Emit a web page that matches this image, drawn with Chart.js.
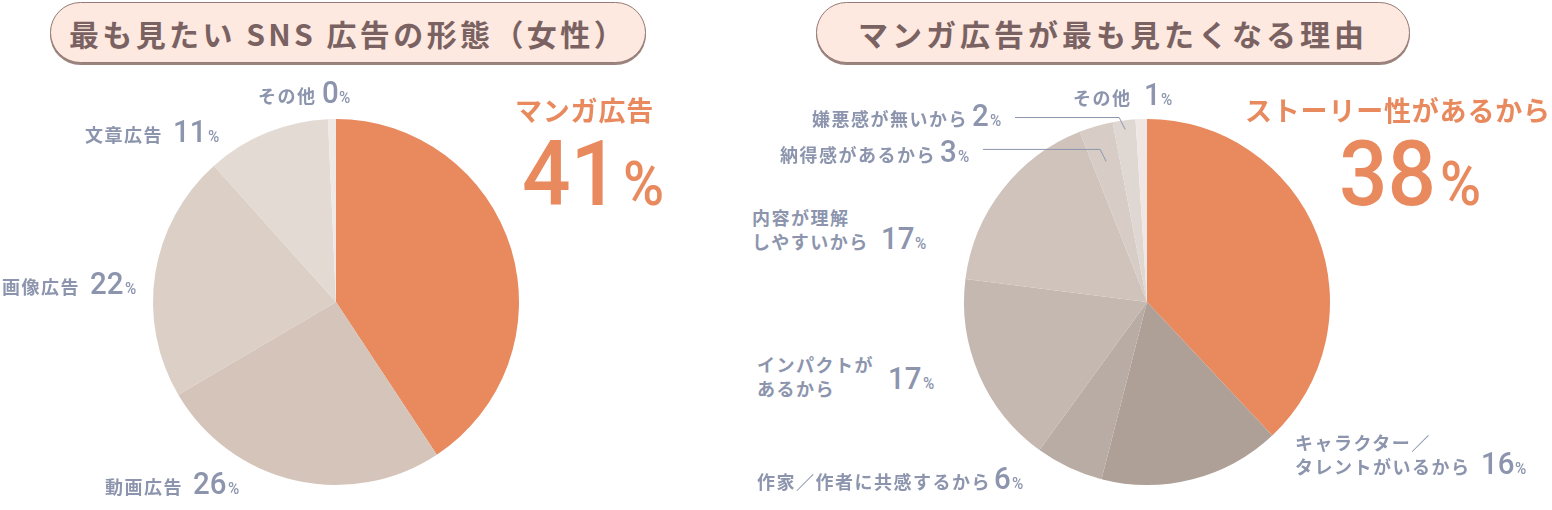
<!DOCTYPE html>
<html lang="ja">
<head>
<meta charset="utf-8">
<script src="https://cdn.jsdelivr.net/npm/chart.js@4.4.0/dist/chart.umd.min.js"></script>
<style>
html, body { margin: 0; padding: 0; background: #fff; }
body { width: 1552px; height: 510px; position: relative; overflow: hidden; font-family: 'Noto Sans CJK JP', 'Noto Sans', sans-serif; }
.title { position: absolute; top: 2px; height: 61px; box-sizing: border-box; border: 1.5px solid #957b75; border-radius: 31px; background: #fee9e1; box-shadow: 0 2px 0 #9c847e; color: #7a6262; font-size: 30px; font-weight: 700; letter-spacing: 4px; display: flex; align-items: center; justify-content: center; }
.pie { position: absolute; width: 406px; height: 406px; }
.lbl { position: absolute; white-space: nowrap; line-height: 1; font-size: 0; color: #8c95ad; }
.lbl .t { font-weight: 700; letter-spacing: 1.5px; }
.lbl .t.multi { display: inline-block; line-height: 1.32; }
.lbl .n, .lbl .p { display: inline-block; font-family: Roboto, sans-serif; font-weight: 500; transform-origin: left bottom; }
.lbl .mk { display: inline-block; width: 0; height: 0; }
.lbl.big { color: #e8895e; }
</style>
</head>
<body>
<div class="title" style="left:50px;width:596px;letter-spacing:3.4px;" id="leftTitle"></div>
<div class="title" style="left:816px;width:594px;" id="rightTitle"></div>
<div class="pie" style="left:133px;top:99px;"><canvas id="leftPie" width="406" height="406"></canvas></div>
<div class="pie" style="left:944px;top:99px;"><canvas id="rightPie" width="406" height="406"></canvas></div>
<script>
// 左：最も見たいSNS広告の形態（女性）
const leftTitle = '最も見たい SNS 広告の形態（女性）';
const leftCategories = ['マンガ広告', '動画広告', '画像広告', '文章広告', 'その他'];
const leftValues = [41, 26, 22, 11, 0.7];
const leftPctLabels = ['41', '26', '22', '11', '0'];
const leftColors = ['#e8895e', '#d5c4b9', '#dbcfc6', '#e3dad4', '#efe8e5'];

// 右：マンガ広告が最も見たくなる理由
const rightTitle = 'マンガ広告が最も見たくなる理由';
const rightCategories = ['ストーリー性があるから', 'キャラクター／\nタレントがいるから', '作家／作者に共感するから',
    'インパクトが\nあるから', '内容が理解\nしやすいから', '納得感があるから', '嫌悪感が無いから', 'その他'];
const rightValues = [38, 16, 6, 17, 17, 3, 2, 1];
const rightPctLabels = ['38', '16', '6', '17', '17', '3', '2', '1'];
const rightColors = ['#e8895e', '#ae9f97', '#b8aca4', '#c4b8b0', '#cfc3bb', '#d8cdc6', '#dfd7d2', '#eee7e4'];

document.getElementById('leftTitle').textContent = leftTitle;
document.getElementById('rightTitle').textContent = rightTitle;

// ラベルの配置（x, 数字のベースライン）
const smallStyle = { textSize: 18, numSize: 31, pctSize: 17, scale: 0.95, pctScale: 0.9, gap: 10 };
const leftPlace = [
    null,
    { x: 105, base: 494 },
    { x: 2, base: 294 },
    { x: 85, base: 142 },
    { x: 258, base: 103, gap: 5 }
];
const rightPlace = [
    null,
    { x: 1295, base: 474 },
    { x: 757, base: 489, gap: 3 },
    { x: 757, base: 389, shift: 7, gap: 14 },
    { x: 752, base: 249, gap: 12 },
    { x: 780, base: 162, gap: 4 },
    { x: 812, base: 126, gap: 4 },
    { x: 1073, base: 105, gap: 12 }
];

function makeLabel(text, num, opt) {
    const row = document.createElement('div');
    row.className = 'lbl' + (opt.big ? ' big' : '');
    row.style.left = opt.x + 'px';
    if (text) {
        const t = document.createElement('span');
        t.className = 't' + (text.includes('\n') ? ' multi' : '');
        t.style.fontSize = opt.textSize + 'px';
        if (opt.big) t.style.letterSpacing = '0.8px';
        text.split('\n').forEach((line, i) => {
            if (i) t.appendChild(document.createElement('br'));
            t.appendChild(document.createTextNode(line));
        });
        if (num) t.style.marginRight = (opt.gap ?? 10) + 'px';
        if (opt.shift) t.style.verticalAlign = (-opt.shift) + 'px';
        row.appendChild(t);
    }
    let n, p;
    if (num) {
        n = document.createElement('span');
        n.className = 'n';
        n.style.fontSize = opt.numSize + 'px';
        n.textContent = num;
        p = document.createElement('span');
        p.className = 'p';
        p.style.fontSize = opt.pctSize + 'px';
        p.textContent = '%';
        row.appendChild(n);
        row.appendChild(p);
    }
    const mk = document.createElement('span');
    mk.className = 'mk';
    row.appendChild(mk);
    row.style.top = '0px';
    document.body.appendChild(row);
    if (n) {
        const s = opt.scale;
        const w = n.offsetWidth;
        n.style.transform = `scaleX(${s})`;
        n.style.marginRight = (-(1 - s) * w + (opt.pctGap ?? 1)) + 'px';
        p.style.transform = `scaleX(${opt.pctScale ?? s})`;
    }
    const b = mk.getBoundingClientRect().bottom;
    row.style.top = (opt.base - b) + 'px';
}

leftPlace.forEach((pl, i) => {
    if (pl) makeLabel(leftCategories[i], leftPctLabels[i], Object.assign({}, smallStyle, pl));
});
rightPlace.forEach((pl, i) => {
    if (pl) makeLabel(rightCategories[i], rightPctLabels[i], Object.assign({}, smallStyle, pl));
});

// 強調ラベル（1位）
const bigText = { textSize: 27, big: true };
const bigNum = { numSize: 90, pctSize: 62, scale: 0.95, pctScale: 0.9, pctGap: 4, big: true };
makeLabel(leftCategories[0], null, Object.assign({ x: 515, base: 121 }, bigText));
makeLabel(null, leftPctLabels[0], Object.assign({ x: 522, base: 205 }, bigNum));
makeLabel(rightCategories[0], null, Object.assign({ x: 1245, base: 121 }, bigText));
makeLabel(null, rightPctLabels[0], Object.assign({ x: 1339, base: 205 }, bigNum));

// 小さい扇形から文字へ引き出し線
const leaderLines = {
    id: 'leaderLines',
    afterDatasetsDraw(chart, args, opts) {
        const ctx = chart.ctx;
        const arcs = chart.getDatasetMeta(0).data;
        ctx.save();
        ctx.strokeStyle = '#8c95ad';
        ctx.lineWidth = 1;
        (opts.lines || []).forEach(l => {
            const a = arcs[l.index];
            const mid = (a.startAngle + a.endAngle) / 2;
            const r = a.outerRadius * l.r;
            const px = a.x + Math.cos(mid) * r;
            const py = a.y + Math.sin(mid) * r;
            ctx.beginPath();
            ctx.moveTo(px, py);
            ctx.lineTo(px - 6, py - 12);
            ctx.lineTo(l.toX, py - 12);
            ctx.stroke();
        });
        ctx.restore();
    }
};

function pie(id, values, colors, lines) {
    return new Chart(document.getElementById(id), {
        type: 'pie',
        data: {
            datasets: [{
                data: values,
                backgroundColor: colors,
                borderWidth: 0
            }]
        },
        options: {
            responsive: false,
            animation: false,
            layout: { padding: 20 },
            plugins: {
                legend: { display: false },
                tooltip: { enabled: false },
                leaderLines: { lines: lines }
            }
        },
        plugins: [leaderLines]
    });
}

pie('leftPie', leftValues, leftColors, []);
pie('rightPie', rightValues, rightColors, [
    { index: 6, r: 0.95, toX: 71 },
    { index: 5, r: 0.8, toX: 39 }
]);
</script>
</body>
</html>
